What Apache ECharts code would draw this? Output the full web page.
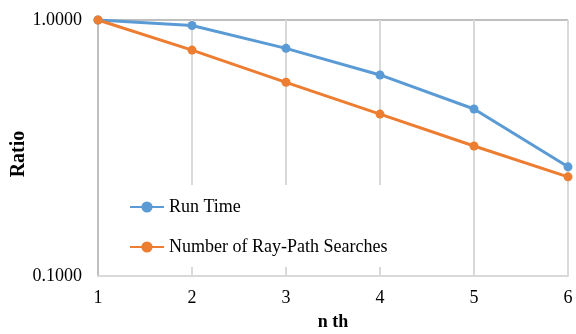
<!DOCTYPE html>
<html>
<head>
<meta charset="utf-8">
<script src="https://cdn.jsdelivr.net/npm/echarts@6/dist/echarts.min.js"></script>
<style>
html,body{margin:0;padding:0;background:#fff;}
#chart{width:576px;height:334px;}
</style>
</head>
<body>
<div id="chart"></div>
<script>
var categories = ['1', '2', '3', '4', '5', '6'];
var runTime = [1.0, 0.952, 0.775, 0.61, 0.449, 0.267];
var raySearches = [1.0, 0.763, 0.571, 0.429, 0.322, 0.244];
var seriesNames = ['Run Time', 'Number of Ray-Path Searches'];
var yMin = 0.1, yMax = 1;

var font = 'Liberation Serif, Times New Roman, serif';
var chart = echarts.init(document.getElementById('chart'), null, {renderer: 'canvas'});
chart.setOption({
  animation: false,
  backgroundColor: '#fff',
  textStyle: {fontFamily: font},
  grid: {left: 98, right: 8, top: 20, bottom: 58, containLabel: false, outerBoundsMode: 'none'},
  legend: {
    data: seriesNames,
    orient: 'vertical',
    left: 119,
    top: 185,
    padding: [13, 30, 11, 10],
    itemGap: 22,
    itemWidth: 34,
    itemHeight: 14,
    backgroundColor: '#ffffff',
    textStyle: {fontFamily: font, fontSize: 18, color: '#000'},
    z: 10
  },
  xAxis: {
    type: 'category',
    data: categories,
    boundaryGap: false,
    name: 'n th',
    nameLocation: 'middle',
    nameGap: 37,
    nameTextStyle: {fontFamily: font, fontSize: 18, fontWeight: 'bold', color: '#000'},
    axisLine: {show: true, lineStyle: {color: '#d9d9d9', width: 2}},
    axisTick: {show: false},
    axisLabel: {fontFamily: font, fontSize: 18, color: '#000', margin: 13},
    splitLine: {show: true, lineStyle: {color: '#d9d9d9', width: 2}}
  },
  yAxis: {
    type: 'log',
    logBase: 10,
    min: yMin,
    max: yMax,
    name: 'Ratio',
    nameLocation: 'middle',
    nameGap: 69,
    nameRotate: 90,
    nameMoveOverlap: false,
    nameTextStyle: {fontFamily: font, fontSize: 20, fontWeight: 'bold', color: '#000', padding: [0, 12, 0, 0]},
    axisLine: {show: true, lineStyle: {color: '#bfbfbf', width: 2}},
    axisTick: {show: false},
    axisLabel: {fontFamily: font, fontSize: 18, color: '#000', margin: 16,
      formatter: function (v) { return Number(v).toFixed(4); }},
    splitLine: {show: true, lineStyle: {color: '#bfbfbf', width: 2}}
  },
  series: [
    {
      name: seriesNames[0],
      type: 'line',
      data: runTime,
      color: '#5b9bd5',
      symbol: 'circle',
      symbolSize: 9,
      lineStyle: {width: 3, color: '#5b9bd5'},
      itemStyle: {color: '#5b9bd5'}
    },
    {
      name: seriesNames[1],
      type: 'line',
      data: raySearches,
      color: '#ed7d31',
      symbol: 'circle',
      symbolSize: 9,
      lineStyle: {width: 3, color: '#ed7d31'},
      itemStyle: {color: '#ed7d31'}
    }
  ]
});
</script>
</body>
</html>
